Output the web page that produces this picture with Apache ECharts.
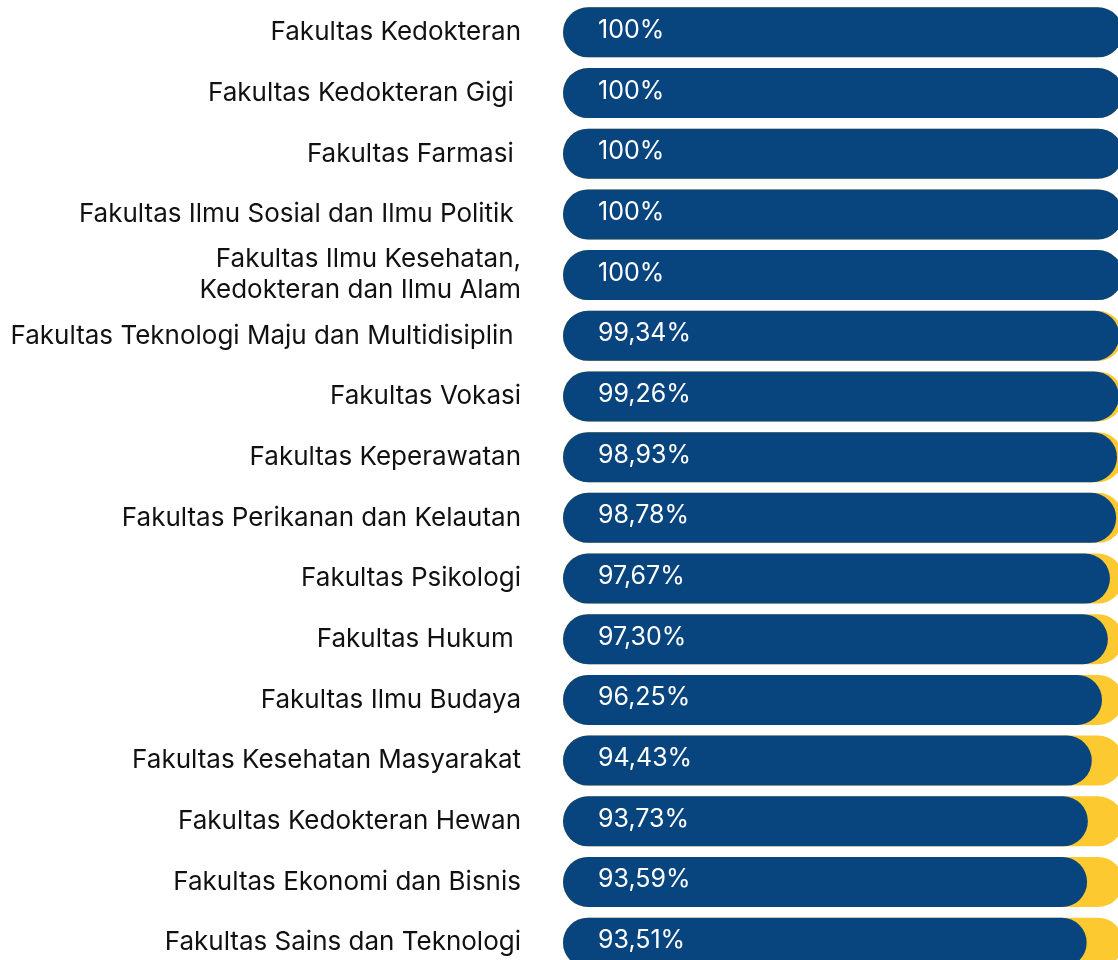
<!DOCTYPE html>
<html>
<head>
<meta charset="utf-8">
<script src="https://cdn.jsdelivr.net/npm/echarts@6/dist/echarts.min.js"></script>
<style>
  html, body { margin: 0; padding: 0; background: #fff; }
  #chart { width: 1118px; height: 960px; }
</style>
</head>
<body>
<div id="chart"></div>
<script>
// fakultas, urut dari atas ke bawah
const faculties = [
  'Fakultas Kedokteran',
  'Fakultas Kedokteran Gigi ',
  'Fakultas Farmasi ',
  'Fakultas Ilmu Sosial dan Ilmu Politik ',
  'Fakultas Ilmu Kesehatan,\nKedokteran dan Ilmu Alam',
  'Fakultas Teknologi Maju dan Multidisiplin ',
  'Fakultas Vokasi',
  'Fakultas Keperawatan',
  'Fakultas Perikanan dan Kelautan',
  'Fakultas Psikologi',
  'Fakultas Hukum ',
  'Fakultas Ilmu Budaya',
  'Fakultas Kesehatan Masyarakat',
  'Fakultas Kedokteran Hewan',
  'Fakultas Ekonomi dan Bisnis',
  'Fakultas Sains dan Teknologi'
]

const percentages = [100, 100, 100, 100, 100, 99.34, 99.26, 98.93, 98.78, 97.67, 97.30, 96.25, 94.43, 93.73, 93.59, 93.51]

const chart = echarts.init(document.getElementById('chart'))

function formatPercent(v) {
  if (v === 100) return '100%'
  return v.toFixed(2).replace('.', ',') + '%'
}

const option = {
  animation: false,
  textStyle: { fontFamily: 'Inter' },
  grid: {
    left: 563,
    top: 2,
    width: 560,
    height: 971,
    outerBoundsMode: 'none'
  },
  xAxis: {
    type: 'value',
    min: 0,
    max: 100,
    show: false
  },
  yAxis: {
    type: 'category',
    inverse: true,
    data: faculties,
    axisLine: { show: false },
    axisTick: { show: false },
    axisLabel: {
      margin: 42,
      color: '#111',
      fontSize: 26,
      fontFamily: 'Inter',
      lineHeight: 31
    }
  },
  series: [
    {
      type: 'bar',
      data: percentages,
      barWidth: 50,
      showBackground: true,
      backgroundStyle: {
        color: '#FCC930',
        borderRadius: 25
      },
      itemStyle: {
        color: '#08457F',
        borderRadius: 25
      },
      label: {
        show: true,
        position: 'insideLeft',
        offset: [30, -2],
        color: '#fff',
        fontSize: 25,
        fontFamily: 'Inter',
        formatter: p => formatPercent(p.value)
      }
    }
  ]
}

chart.setOption(option)
</script>
</body>
</html>
